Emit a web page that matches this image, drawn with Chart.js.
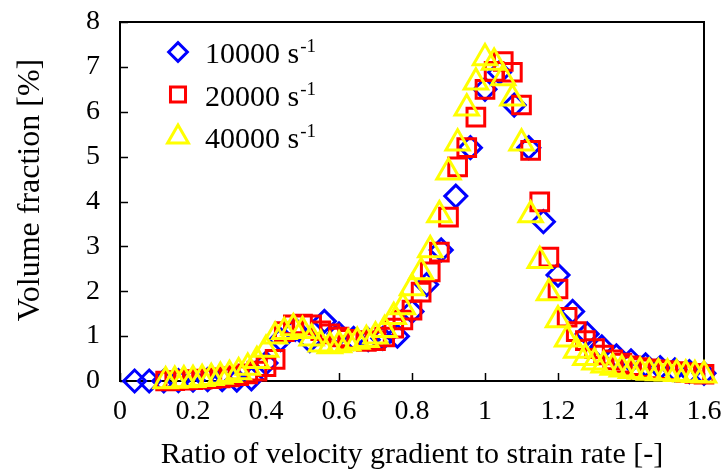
<!DOCTYPE html>
<html>
<head>
<meta charset="utf-8">
<script src="https://cdn.jsdelivr.net/npm/chart.js@4.4.1/dist/chart.umd.min.js"></script>
<style>
  html, body { margin: 0; padding: 0; background: #fff; }
  #wrap { position: relative; width: 725px; height: 476px; }
</style>
</head>
<body>
<div id="wrap"><canvas id="c" width="725" height="476"></canvas></div>
<script>
// Volume fraction distributions of the velocity-gradient / strain-rate ratio
const seriesNames = ['10000', '20000', '40000'];

const ratio10k = [0.04, 0.08, 0.12, 0.16, 0.20, 0.24, 0.28, 0.32, 0.36, 0.40,
  0.44, 0.48, 0.52, 0.56, 0.60, 0.64, 0.68, 0.72, 0.76, 0.80,
  0.84, 0.88, 0.92, 0.96, 1.00, 1.04, 1.08, 1.12, 1.16, 1.20,
  1.24, 1.28, 1.32, 1.36, 1.40, 1.44, 1.48, 1.52, 1.56, 1.60];
const frac10k = [0, 0, 0, 0.01, 0.02, 0.03, 0.03, 0.02, 0.05, 0.4,
  0.92, 1.15, 0.9, 1.33, 1.05, 0.95, 0.92, 0.95, 1.0, 1.55,
  2.15, 2.92, 4.12, 5.2, 6.5, 6.88, 6.15, 5.2, 3.55, 2.36,
  1.55, 1.05, 0.76, 0.56, 0.45, 0.36, 0.3, 0.25, 0.21, 0.17];

const ratioFine = [0.125, 0.15, 0.175, 0.2, 0.225, 0.25, 0.275, 0.3, 0.325, 0.35,
  0.375, 0.4, 0.425, 0.45, 0.475, 0.5, 0.525, 0.55, 0.575, 0.6,
  0.625, 0.65, 0.675, 0.7, 0.725, 0.75, 0.775, 0.8, 0.825, 0.85,
  0.875, 0.9, 0.925, 0.95, 0.975, 1.0, 1.025, 1.05, 1.075, 1.1,
  1.125, 1.15, 1.175, 1.2, 1.225, 1.25, 1.275, 1.3, 1.325, 1.35,
  1.375, 1.4, 1.425, 1.45, 1.475, 1.5, 1.525, 1.55, 1.575, 1.6];
const frac20k = [0, 0.01, 0.02, 0.03, 0.04, 0.05, 0.07, 0.09, 0.12, 0.16,
  0.22, 0.32, 0.48, 1.1, 1.25, 1.27, 1.25, 1.12, 1.05, 0.98,
  0.93, 0.9, 0.88, 0.9, 0.98, 1.18, 1.36, 1.58, 1.98, 2.43,
  2.87, 3.65, 4.77, 5.2, 5.88, 6.5, 6.9, 7.12, 6.88, 6.15,
  5.14, 3.99, 2.76, 2.05, 1.42, 1.1, 0.9, 0.72, 0.58, 0.47,
  0.4, 0.34, 0.3, 0.27, 0.25, 0.23, 0.21, 0.19, 0.17, 0.15];
const frac40k = [0, 0.01, 0.02, 0.03, 0.05, 0.07, 0.1, 0.14, 0.2, 0.3,
  0.45, 0.7, 1.0, 1.1, 1.18, 1.12, 0.95, 0.82, 0.78, 0.8,
  0.84, 0.88, 0.92, 1.0, 1.14, 1.43, 1.65, 2.07, 2.43, 2.92,
  3.7, 4.65, 5.3, 6.08, 6.66, 7.2, 7.1, 6.75, 6.3, 5.3,
  3.7, 2.68, 1.96, 1.36, 0.93, 0.68, 0.52, 0.42, 0.35, 0.3,
  0.26, 0.23, 0.21, 0.19, 0.18, 0.17, 0.16, 0.15, 0.14, 0.13];

const xTicks = [0, 0.2, 0.4, 0.6, 0.8, 1, 1.2, 1.4, 1.6];
const yTicks = [0, 1, 2, 3, 4, 5, 6, 7, 8];
const yTitle = 'Volume fraction [%]';

const FONT = "'Liberation Serif', 'Times New Roman', serif";
const styles = [
  { color: '#0000ff', pointStyle: 'rectRot', radius: 11 },
  { color: '#ff0000', pointStyle: 'rect', radius: 12.5 },
  { color: '#ffff00', pointStyle: 'triangle', radius: 13.5 }
];

function pairs(xs, ys) { return xs.map((x, i) => ({ x: x, y: ys[i] })); }

const datasets = [
  pairs(ratio10k, frac10k),
  pairs(ratioFine, frac20k),
  pairs(ratioFine, frac40k)
].map((d, i) => ({
  label: seriesNames[i] + ' s-1',
  data: d,
  showLine: false,
  clip: false,
  order: 3 - i,
  pointStyle: styles[i].pointStyle,
  pointRadius: styles[i].radius,
  pointHoverRadius: styles[i].radius,
  pointBorderWidth: 3,
  borderColor: styles[i].color,
  backgroundColor: 'rgba(0,0,0,0)'
}));

// Box frame with inward tick marks, plus the vertical axis title
const framePlugin = {
  id: 'frame',
  beforeDatasetsDraw(chart) {
    const { ctx, chartArea: a, scales: { x, y } } = chart;
    ctx.save();
    ctx.strokeStyle = '#000';
    ctx.lineWidth = 2;
    ctx.strokeRect(a.left, a.top, a.right - a.left, a.bottom - a.top);
    ctx.beginPath();
    xTicks.forEach(v => {
      const px = Math.round(x.getPixelForValue(v)) + 0.5;
      ctx.moveTo(px, a.bottom);
      ctx.lineTo(px, a.bottom - 8);
    });
    yTicks.forEach(v => {
      const py = Math.round(y.getPixelForValue(v)) + 0.5;
      ctx.moveTo(a.left, py);
      ctx.lineTo(a.left + 8, py);
    });
    ctx.lineWidth = 1.5;
    ctx.stroke();

    ctx.translate(31, 190);
    ctx.rotate(-Math.PI / 2);
    ctx.fillStyle = '#000';
    ctx.font = '32px ' + FONT;
    ctx.textAlign = 'center';
    ctx.textBaseline = 'middle';
    ctx.fillText(yTitle, 0, 0);
    ctx.restore();
  }
};

// Legend with superscripted unit
const legendPlugin = {
  id: 'unitLegend',
  afterDraw(chart) {
    const { ctx } = chart;
    const mx = 178, tx = 205, rowTop = 52, rowGap = 42.5;
    ctx.save();
    seriesNames.forEach((name, i) => {
      const cy = rowTop + i * rowGap;
      const s = styles[i];
      ctx.strokeStyle = s.color;
      ctx.fillStyle = 'rgba(0,0,0,0)';
      ctx.lineWidth = 3;
      Chart.helpers.drawPoint(ctx, {
        pointStyle: s.pointStyle,
        radius: s.pointStyle === 'triangle' ? 12 : s.radius * 0.85,
        borderWidth: 3,
        rotation: 0
      }, mx, cy);
      ctx.fillStyle = '#000';
      ctx.textBaseline = 'alphabetic';
      ctx.textAlign = 'left';
      ctx.font = '30px ' + FONT;
      const main = name + ' s';
      const base = cy + 11;
      ctx.fillText(main, tx, base);
      const w = ctx.measureText(main).width;
      ctx.font = '19px ' + FONT;
      ctx.fillText('-1', tx + w + 1, base - 11);
    });
    ctx.restore();
  }
};

new Chart(document.getElementById('c'), {
  type: 'scatter',
  data: { datasets: datasets },
  plugins: [framePlugin, legendPlugin],
  options: {
    responsive: false,
    animation: false,
    devicePixelRatio: 1,
    layout: { padding: { top: 22, right: 21, left: 0, bottom: 0 } },
    plugins: { legend: { display: false }, tooltip: { enabled: false } },
    scales: {
      x: {
        type: 'linear',
        min: 0, max: 1.6,
        afterBuildTicks: s => { s.ticks = xTicks.map(v => ({ value: v })); },
        afterFit: s => { s.height = 95; s.paddingLeft = 0; s.paddingRight = 0; },
        grid: { display: false, drawTicks: false },
        border: { display: false },
        ticks: {
          padding: 14,
          color: '#000',
          font: { family: FONT, size: 28 },
          maxRotation: 0,
          callback: v => String(Math.round(v * 10) / 10)
        },
        title: {
          display: true,
          text: 'Ratio of velocity gradient to strain rate [-]',
          color: '#000',
          font: { family: FONT, size: 30 },
          padding: { top: 0, bottom: 3 }
        }
      },
      y: {
        type: 'linear',
        min: 0, max: 8,
        afterBuildTicks: s => { s.ticks = yTicks.map(v => ({ value: v })); },
        afterFit: s => { s.width = 120; s.paddingTop = 0; s.paddingBottom = 0; },
        grid: { display: false, drawTicks: false },
        border: { display: false },
        ticks: {
          padding: 20,
          color: '#000',
          font: { family: FONT, size: 28 },
          callback: v => String(v)
        }
      }
    }
  }
});
</script>
</body>
</html>
